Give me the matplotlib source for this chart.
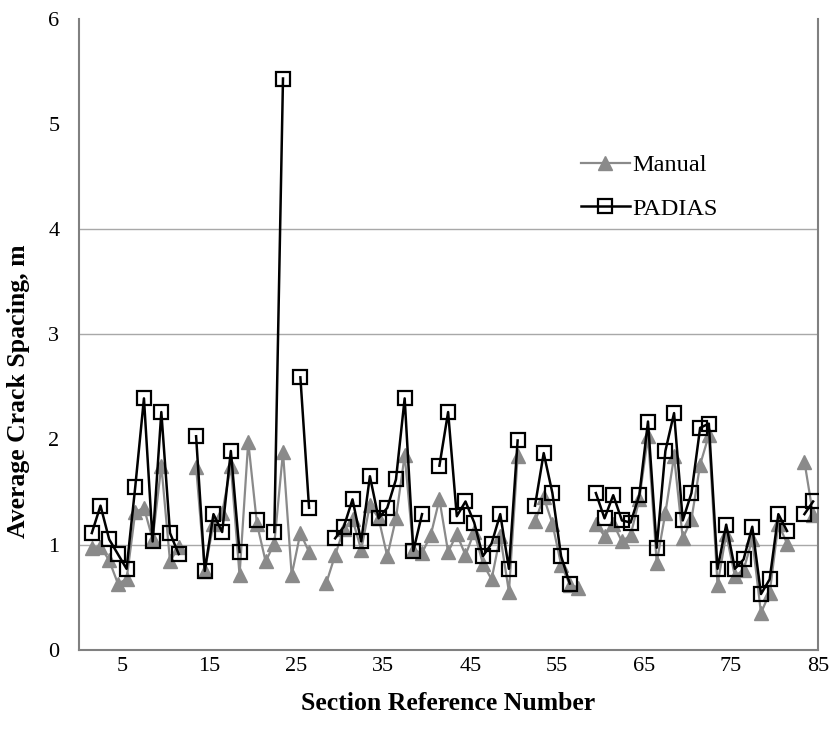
import numpy as np
import matplotlib
matplotlib.use("Agg")
import matplotlib.pyplot as plt

nan = np.nan

# section reference numbers (category axis)
sections = list(range(1, 86))

manual = [
    nan, 0.97, 0.98, 0.85, 0.63, 0.67, 1.31, 1.35, 1.05, 1.75,
    0.84, 0.98, nan, 1.74, 0.75, 1.20, 1.30, 1.75, 0.71, 1.98,
    1.20, 0.84, 1.01, 1.88, 0.71, 1.11, 0.93, nan, 0.64, 0.90,
    1.15, 1.24, 0.95, 1.38, 1.25, 0.89, 1.25, 1.85, 0.95, 0.92,
    1.09, 1.43, 0.93, 1.10, 0.90, 1.12, 0.82, 0.67, 1.08, 0.55,
    1.84, nan, 1.22, 1.45, 1.20, 0.81, 0.62, 0.59, nan, 1.20,
    1.08, 1.20, 1.03, 1.09, 1.43, 2.03, 0.83, 1.30, 1.84, 1.06,
    1.24, 1.76, 2.04, 0.62, 1.10, 0.70, 0.76, 1.05, 0.35, 0.54,
    1.20, 1.01, nan, 1.79, 1.28,
]

padias = [
    nan, 1.11, 1.37, 1.05, 0.91, 0.77, 1.55, 2.39, 1.03, 2.26,
    1.11, 0.91, nan, 2.03, 0.75, 1.29, 1.12, 1.89, 0.93, nan,
    1.23, nan, 1.12, 5.43, nan, 2.59, 1.35, nan, nan, 1.06,
    1.17, 1.43, 1.03, 1.65, 1.25, 1.35, 1.62, 2.39, 0.94, 1.29,
    nan, 1.75, 2.26, 1.27, 1.41, 1.21, 0.89, 1.01, 1.29, 0.77,
    1.99, nan, 1.37, 1.87, 1.49, 0.89, 0.63, nan, nan, 1.49,
    1.25, 1.47, 1.23, 1.21, 1.47, 2.17, 0.97, 1.89, 2.25, 1.23,
    1.49, 2.11, 2.15, 0.77, 1.19, 0.77, 0.86, 1.17, 0.53, 0.67,
    1.29, 1.13, nan, 1.29, 1.41,
]

tick_labels = ['5', '15', '25', '35', '45', '55', '65', '75', '85']
grid_levels = [1, 3, 4]

plt.rcParams['font.family'] = ['Liberation Serif', 'DejaVu Serif']

fig = plt.figure(figsize=(8.38, 7.41), dpi=100)
ax = fig.add_axes([0.094, 0.123, 0.882, 0.852])

x = np.array(sections)
ax.plot(x, manual, color='#8a8a8a', lw=1.6, marker='^', ms=10,
        mfc='#8a8a8a', mec='#8a8a8a', label='Manual', zorder=2)
ax.plot(x, padias, color='black', lw=1.8, marker='s', ms=9.5,
        mfc='none', mec='black', mew=1.6, label='PADIAS', zorder=3)

ax.set_xlim(0.5, 85.5)
ax.set_ylim(0, 6)
ax.set_yticks(range(0, 7))
# labels sit about half a category right of the section they name
ax.set_xticks([int(t) + 0.55 for t in tick_labels])
ax.set_xticklabels(tick_labels)
ax.tick_params(axis='both', length=0, labelsize=16)
ax.tick_params(axis='y', pad=14)
ax.tick_params(axis='x', pad=5)

for g in grid_levels:
    ax.axhline(g, color='#a8a8a8', lw=1.0, zorder=1)

for s in ['left', 'right', 'bottom']:
    ax.spines[s].set_color('#808080')
    ax.spines[s].set_linewidth(1.5)
ax.spines['top'].set_visible(False)

ax.set_xlabel('Section Reference Number', fontsize=18.5, fontweight='bold', labelpad=12)
ax.set_ylabel('Average Crack Spacing, m', fontsize=18.5, fontweight='bold')
ax.yaxis.set_label_coords(-0.066, 0.41)

ax.legend(loc='upper left', bbox_to_anchor=(0.65, 0.82), frameon=False,
          fontsize=17.5, handlelength=2.0, handletextpad=0.1, labelspacing=0.9)

fig.savefig('out.png', dpi=100)
